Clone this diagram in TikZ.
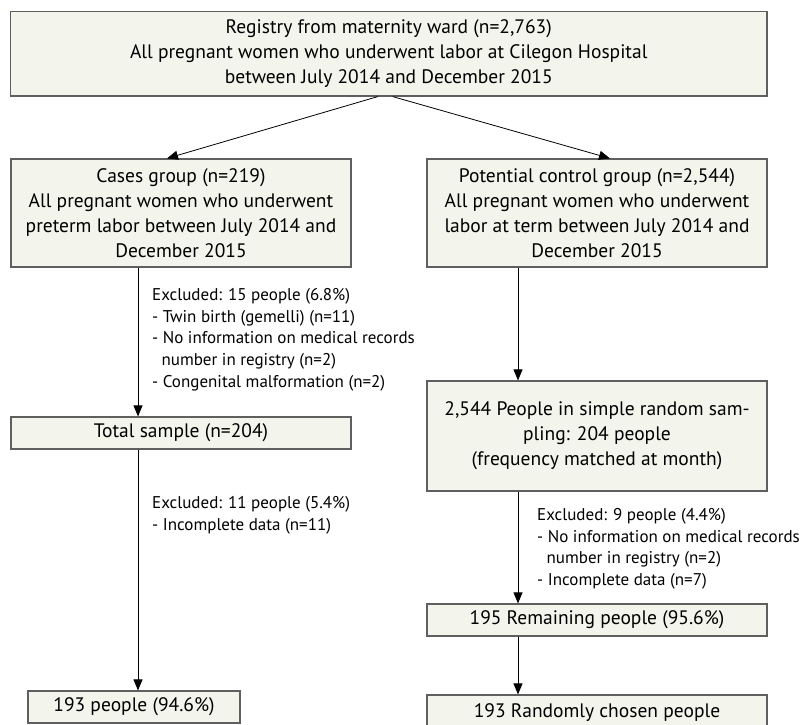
\documentclass[tikz,border=0pt]{standalone}
\usepackage{fontspec}
\setmainfont{PT Sans}
\usetikzlibrary{arrows.meta}
\definecolor{boxfill}{RGB}{243,245,236}
\definecolor{boxline}{RGB}{95,95,95}
\tikzset{
  box/.style={draw=boxline, fill=boxfill, line width=1.2pt, align=center, inner sep=0pt,
    font=\fontsize{19.5}{25}\selectfont},
  note/.style={align=left, anchor=north west, inner sep=0pt, font=\fontsize{17}{21.8}\selectfont},
  arr/.style={line width=0.8pt, -{Triangle[length=11pt,width=9pt]}}
}
\begin{document}
\begin{tikzpicture}[x=1pt,y=-1pt]
      \clip (0,0) rectangle (801,724);
      \fill[white] (0,0) rectangle (801,724);
      % boxes
      \node[box, minimum width=756.5pt, minimum height=84.5pt] (registry) at (388.75,53.75)
        {Registry from maternity ward (n=2,763)\\All pregnant women who underwent labor at Cilegon Hospital\\between July 2014 and December 2015};
      \node[box, minimum width=340pt, minimum height=108pt] (cases) at (181,213)
        {Cases group (n=219)\\All pregnant women who underwent\\preterm labor between July 2014 and\\December 2015};
      \node[box, minimum width=340pt, minimum height=108pt] (control) at (597,213)
        {Potential control group (n=2,544)\\All pregnant women who underwent\\labor at term between July 2014 and\\December 2015};
      \node[box, minimum width=340pt, minimum height=32pt] (total) at (181,433) {Total sample (n=204)};
      \node[box, minimum width=340pt, minimum height=110pt] (sampling) at (597,436)
        {2,544 People in simple random sam-\\pling: 204 people\\(frequency matched at month)};
      \node[box, minimum width=340pt, minimum height=32pt] (remaining) at (597,620) {195 Remaining people (95.6\%)};
      \node[box, minimum width=212pt, minimum height=32pt] (casesfinal) at (134,707) {193 people (94.6\%)};
      \node[box, minimum width=340pt, minimum height=36pt] (controlfinal) at (597,713) {193 Randomly chosen people};
      % exclusion notes
      \node[note] (exclA) at (152,288) {Excluded: 15 people (6.8\%)\\- Twin birth (gemelli) (n=11)\\- No information on medical records\\\hspace*{0.55em}number in registry (n=2)\\- Congenital malformation (n=2)};
      \node[note] (exclB) at (152,496) {Excluded: 11 people (5.4\%)\\- Incomplete data (n=11)};
      \node[note] (exclC) at (537,508) {Excluded: 9 people (4.4\%)\\- No information on medical records\\\hspace*{0.55em}number in registry (n=2)\\- Incomplete data (n=7)};
      % arrows
      \coordinate (lx) at (138,0);
      \coordinate (rx) at (518,0);
      \draw[arr] ([xshift=-11pt]registry.south) -- ([xshift=-14pt]cases.north);
      \draw[arr] ([xshift=4pt]registry.south) -- ([xshift=13pt]control.north);
      \draw[arr] (cases.south -| lx) -- (total.north -| lx);
      \draw[arr] (total.south -| lx) -- (casesfinal.north -| lx);
      \draw[arr] (control.south -| rx) -- (sampling.north -| rx);
      \draw[arr] (sampling.south -| rx) -- (remaining.north -| rx);
      \draw[arr] (remaining.south -| rx) -- (controlfinal.north -| rx);
    \end{tikzpicture}
\end{document}
